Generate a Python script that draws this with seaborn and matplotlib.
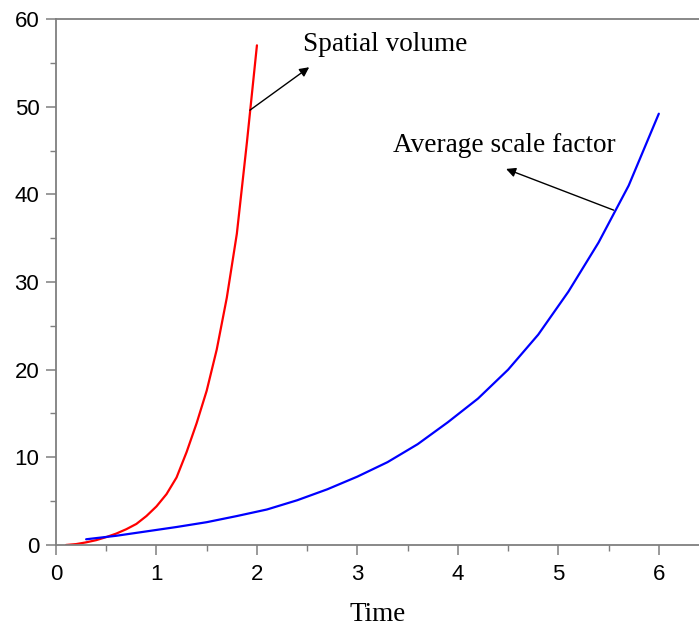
import pandas as pd
import matplotlib
matplotlib.use("Agg")
import matplotlib.pyplot as plt
import seaborn as sns
from matplotlib.ticker import MultipleLocator

# Данные
volume_time = [0.1, 0.2, 0.3, 0.4, 0.5, 0.6, 0.7, 0.8, 0.9, 1.0,
               1.1, 1.2, 1.3, 1.4, 1.5, 1.6, 1.7, 1.8, 1.9, 2.0]
volume_values = [0.0, 0.1, 0.3, 0.55, 0.9, 1.3, 1.8, 2.4, 3.3, 4.4,
                 5.8, 7.7, 10.6, 13.9, 17.6, 22.3, 28.2, 35.5, 45.9, 57.0]

scale_time = [0.3, 0.6, 0.9, 1.2, 1.5, 1.8, 2.1, 2.4, 2.7, 3.0,
              3.3, 3.6, 3.9, 4.2, 4.5, 4.8, 5.1, 5.4, 5.7, 6.0]
scale_values = [0.65, 1.05, 1.55, 2.05, 2.6, 3.3, 4.05, 5.1, 6.35, 7.8,
                9.45, 11.5, 14.0, 16.7, 20.0, 24.0, 28.9, 34.5, 41.0, 49.2]

volume_df = pd.DataFrame({'time': volume_time, 'value': volume_values})
scale_df = pd.DataFrame({'time': scale_time, 'value': scale_values})

sns.set_theme(style="ticks")
plt.rcParams['font.family'] = ['Liberation Sans', 'DejaVu Sans']
plt.rcParams['text.color'] = 'black'
plt.rcParams['axes.labelcolor'] = 'black'

fig = plt.figure(figsize=(6.99, 6.28), dpi=100)
ax = fig.add_axes([0.0801, 0.1322, 0.9199, 0.8375])

sns.lineplot(data=volume_df, x='time', y='value', color='#ff0000', lw=1.6, sort=False, ax=ax)
sns.lineplot(data=scale_df, x='time', y='value', color='#0000ff', lw=1.6, sort=False, ax=ax)

ax.set_xlim(0, 6.40)
ax.set_ylim(0, 60)
ax.xaxis.set_major_locator(MultipleLocator(1))
ax.xaxis.set_minor_locator(MultipleLocator(0.5))
ax.yaxis.set_major_locator(MultipleLocator(10))
ax.yaxis.set_minor_locator(MultipleLocator(5))

spine_color = '#7f7f7f'
for side in ['left', 'bottom', 'top']:
    ax.spines[side].set_color(spine_color)
    ax.spines[side].set_linewidth(1.3)
ax.spines['right'].set_visible(False)

ax.tick_params(which='major', direction='out', length=7, width=1.1, color=spine_color,
               labelsize=16, labelcolor='black', top=False, right=False)
ax.tick_params(which='minor', direction='out', length=4, width=1.0, color=spine_color,
               top=False, right=False)
ax.tick_params(axis='x', which='major', pad=7)
ax.tick_params(axis='y', which='major', pad=5)

ax.set_xlabel('Time', family='Liberation Serif', fontsize=19.5, labelpad=12, color='black')
ax.set_ylabel('')

# Подписи со стрелками
ax.text(2.46, 57.1, 'Spatial volume', family='Liberation Serif', fontsize=19.6,
        ha='left', va='center', color='black')
ax.annotate('', xy=(2.52, 54.5), xytext=(1.93, 49.6),
            arrowprops=dict(arrowstyle='-|>', color='black', lw=1.0,
                            mutation_scale=14, shrinkA=0, shrinkB=0))

ax.text(3.35, 45.6, 'Average scale factor', family='Liberation Serif', fontsize=19.6,
        ha='left', va='center', color='black')
ax.annotate('', xy=(4.48, 42.9), xytext=(5.55, 38.2),
            arrowprops=dict(arrowstyle='-|>', color='black', lw=1.0,
                            mutation_scale=14, shrinkA=0, shrinkB=0))

plt.savefig('out.png', dpi=100)
